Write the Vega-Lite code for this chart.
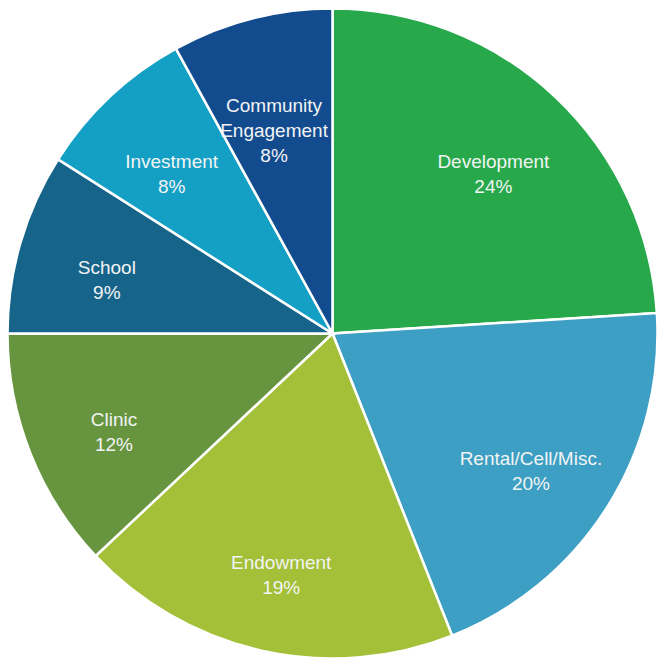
{
  "$schema": "https://vega.github.io/schema/vega-lite/v6.json",
  "width": 657,
  "height": 659,
  "autosize": {"type": "fit", "contains": "padding"},
  "padding": {"left": 8, "top": 8, "right": 0, "bottom": 0},
  "background": "white",
  "view": {"stroke": null},
  "data": {
    "values": [
      {"category": "Development", "value": 24, "rank": 1, "label": "Development\n24%"},
      {"category": "Rental/Cell/Misc.", "value": 20, "rank": 2, "label": "Rental/Cell/Misc.\n20%"},
      {"category": "Endowment", "value": 19, "rank": 3, "label": "Endowment\n19%"},
      {"category": "Clinic", "value": 12, "rank": 4, "label": "Clinic\n12%"},
      {"category": "School", "value": 9, "rank": 5, "label": "School\n9%"},
      {"category": "Investment", "value": 8, "rank": 6, "label": "Investment\n8%"},
      {"category": "Community Engagement", "value": 8, "rank": 7, "label": "Community\nEngagement\n8%"}
    ]
  },
  "encoding": {
    "theta": {"field": "value", "type": "quantitative", "stack": true},
    "order": {"field": "rank", "type": "quantitative"},
    "color": {
      "field": "category",
      "type": "nominal",
      "legend": null,
      "scale": {
        "domain": ["Development", "Rental/Cell/Misc.", "Endowment", "Clinic", "School", "Investment", "Community Engagement"],
        "range": ["#27a84b", "#3d9fc3", "#a4bf38", "#67953f", "#17648a", "#14a0c4", "#124b8e"]
      }
    }
  },
  "layer": [
    {
      "mark": {"type": "arc", "outerRadius": 325, "stroke": "white", "strokeWidth": 2.5}
    },
    {
      "mark": {"type": "text", "radius": 235, "font": "Liberation Sans", "fontSize": 19, "lineBreak": "\n", "lineHeight": 25, "align": "center", "baseline": "middle"},
      "encoding": {
        "text": {"field": "label", "type": "nominal"},
        "color": {"value": "#f2f4f4"}
      }
    }
  ]
}
